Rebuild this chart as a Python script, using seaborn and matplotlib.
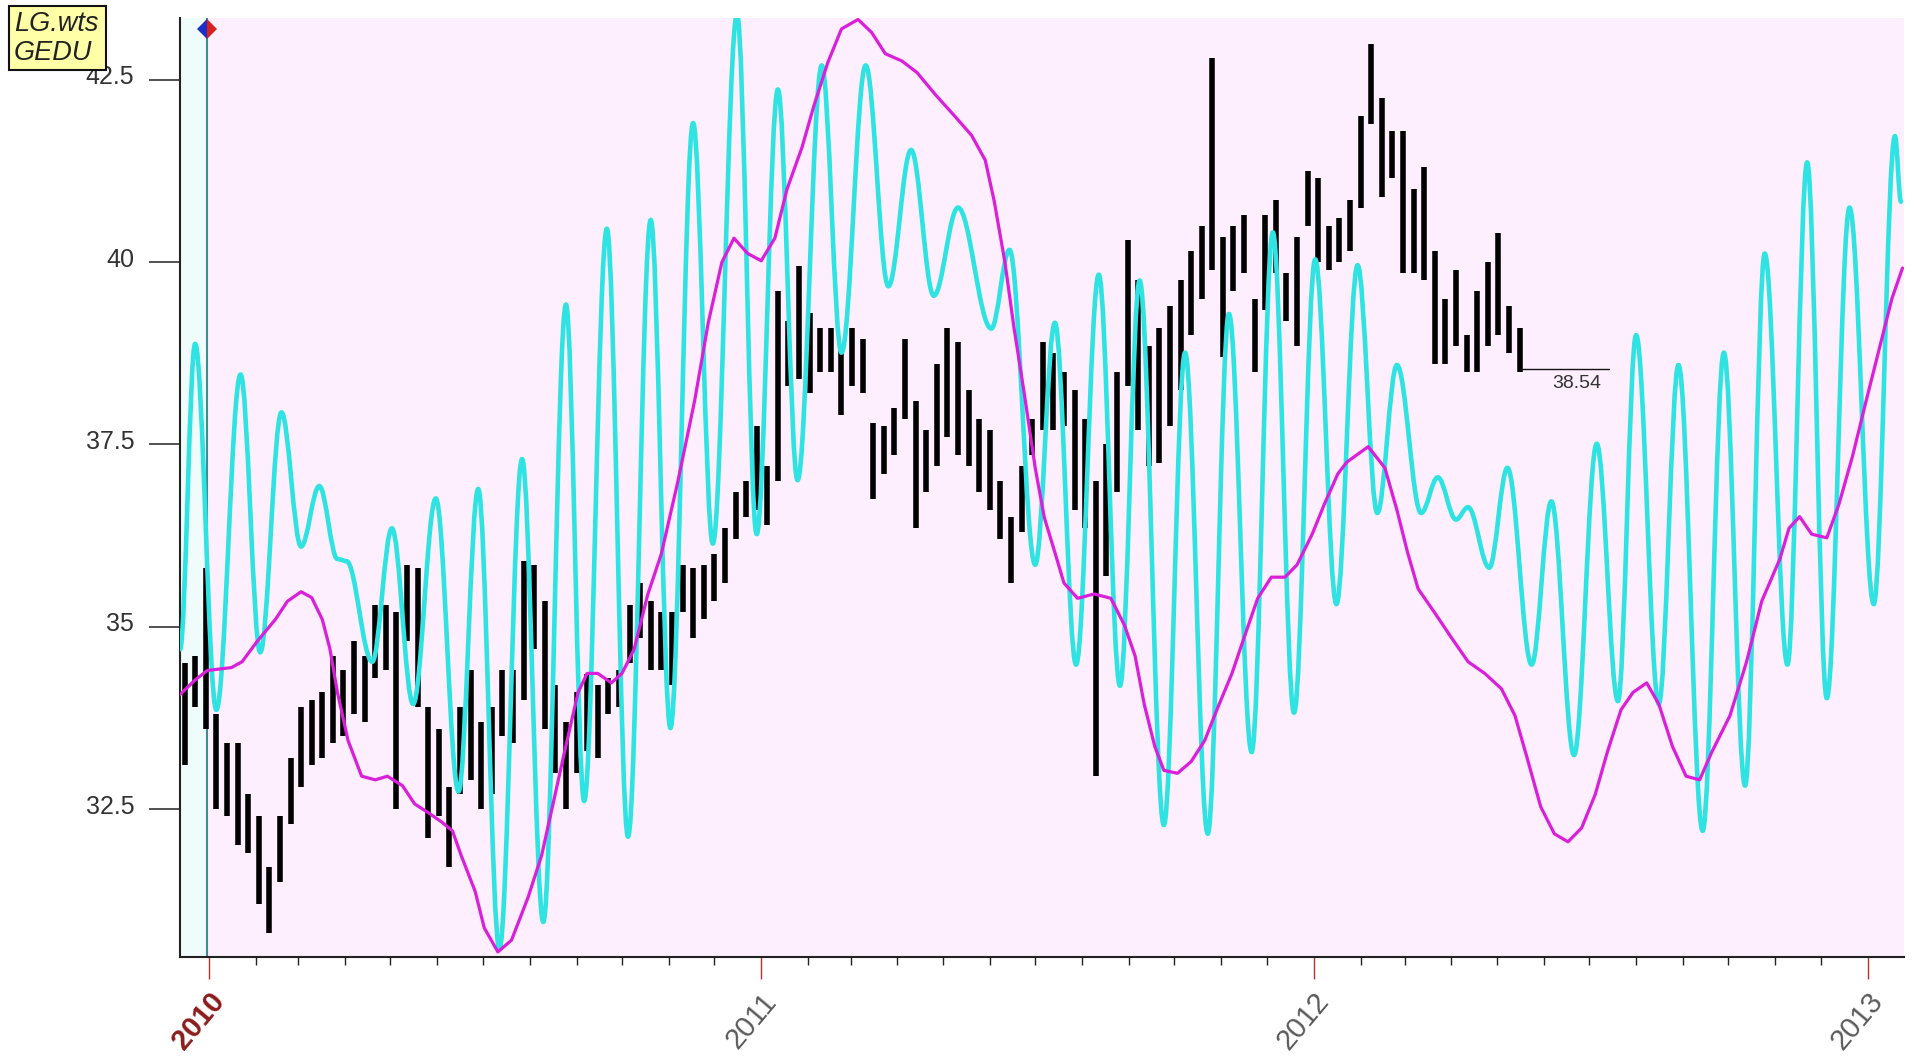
import numpy as np
import pandas as pd
import matplotlib
matplotlib.use("Agg")
import matplotlib.pyplot as plt
import matplotlib.dates as mdates
import matplotlib.transforms as mtransforms
from matplotlib.patches import Rectangle, PathPatch
from matplotlib.path import Path
import seaborn as sns

sns.set_style("white")
plt.rcParams["font.family"] = ["Liberation Sans", "DejaVu Sans"]

# ---------------- data ----------------
# weekly price ranges (high / low), weeks starting mid-December 2009
week_high = [34.5, 34.6, 35.8, 33.8, 33.4, 33.4, 32.7, 32.4, 31.7, 32.4,
             33.2, 33.9, 34.0, 34.1, 34.6, 34.4, 34.8, 34.6, 35.3, 35.3,
             35.2, 35.85, 35.8, 33.9, 33.6, 32.8, 33.9, 34.4, 33.7, 33.9,
             34.4, 34.4, 35.9, 35.85, 35.35, 34.2, 33.7, 34.1, 34.35, 34.2,
             34.3, 34.4, 35.3, 35.6, 35.35, 35.2, 35.2, 35.85, 35.8, 35.85,
             36.0, 36.35, 36.85, 37.0, 37.75, 37.2, 39.6, 39.2, 39.95, 39.3,
             39.1, 39.1, 38.8, 39.1, 38.95, 37.8, 37.75, 38.0, 38.95, 38.1,
             37.7, 38.6, 39.1, 38.9, 38.25, 37.85, 37.7, 37.0, 36.5, 37.2,
             37.85, 38.9, 38.75, 38.5, 38.25, 37.85, 37.0, 37.5, 38.5, 40.3,
             39.75, 38.85, 39.1, 39.4, 39.75, 40.15, 40.5, 42.8, 40.35, 40.5,
             40.65, 39.5, 40.65, 40.85, 39.85, 40.35, 41.25, 41.15, 40.5, 40.6,
             40.85, 42.0, 43.0, 42.25, 41.8, 41.8, 41.0, 41.3, 40.15, 39.5,
             39.9, 39.0, 39.6, 40.0, 40.4, 39.4, 39.1]
week_low = [33.1, 33.9, 33.6, 32.5, 32.4, 32.0, 31.9, 31.2, 30.8, 31.5,
            32.3, 32.8, 33.1, 33.2, 33.4, 33.5, 33.8, 33.7, 34.3, 34.4,
            32.5, 34.8, 33.9, 32.1, 32.4, 31.7, 32.7, 32.9, 32.5, 32.7,
            33.5, 33.4, 34.0, 34.7, 33.6, 33.0, 32.5, 33.0, 33.3, 33.2,
            33.8, 33.9, 34.5, 34.85, 34.4, 34.4, 34.2, 35.2, 34.85, 35.1,
            35.35, 35.6, 36.2, 36.5, 36.6, 36.4, 37.0, 38.3, 38.4, 38.2,
            38.5, 38.5, 37.9, 38.3, 38.2, 36.75, 37.1, 37.35, 37.85, 36.35,
            36.85, 37.2, 37.6, 37.35, 37.2, 36.85, 36.6, 36.2, 35.6, 36.3,
            37.35, 37.7, 37.7, 37.75, 36.6, 36.35, 32.95, 35.7, 36.85, 38.3,
            37.7, 37.2, 37.25, 37.75, 38.25, 39.0, 39.5, 39.9, 38.7, 39.6,
            39.85, 38.5, 39.35, 39.85, 39.2, 38.85, 40.5, 40.0, 39.9, 40.0,
            40.15, 40.75, 41.9, 40.9, 41.15, 39.85, 39.85, 39.75, 38.6, 38.6,
            38.85, 38.5, 38.5, 38.85, 39.0, 38.75, 38.5]
last_close = 38.54

# cycle composite (days from 2010-01-01, value)
cycle_day = [-19, -9, 5, 21, 34, 48, 61, 73, 85, 91, 108, 121, 135, 150, 165,
             178, 192, 207, 221, 236, 248, 263, 277, 292, 305, 320, 333, 349,
             362, 376, 389, 405, 418, 434, 449, 464, 479, 495, 517, 529, 546,
             559, 573, 588, 602, 615, 631, 645, 660, 674, 689, 703, 717, 731,
             745, 759, 772, 785, 801, 812, 824, 832, 846, 858, 874, 887, 902,
             917, 931, 943, 958, 971, 987, 1001, 1015, 1028, 1043, 1056, 1069,
             1084, 1100, 1114, 1118]
cycle_val = [34.69, 38.88, 33.86, 38.46, 34.65, 37.94, 36.10, 36.93, 35.93,
             35.90, 34.52, 36.35, 33.94, 36.76, 32.74, 36.89, 30.58, 37.30,
             30.95, 39.42, 32.61, 40.46, 32.12, 40.58, 33.61, 41.91, 36.14,
             43.40, 36.27, 42.37, 37.01, 42.70, 38.76, 42.70, 39.67, 41.54,
             39.54, 40.75, 39.09, 40.17, 35.85, 39.17, 34.48, 39.83, 34.19,
             39.75, 32.28, 38.76, 32.16, 39.29, 33.28, 40.41, 33.82, 40.04,
             35.31, 39.96, 36.56, 38.59, 36.56, 37.05, 36.47, 36.64, 35.81,
             37.18, 34.48, 36.72, 33.24, 37.51, 33.98, 39.00, 33.94, 38.59,
             32.20, 38.76, 32.82, 40.12, 34.48, 41.37, 34.02, 40.75, 35.31,
             41.73, 40.83]

# smoothed trend (days from 2010-01-01, value)
trend_day = [-19, -9, -1, 15, 22, 32, 44, 52, 61, 68, 75, 80, 85, 92, 101,
             110, 118, 128, 136, 145, 154, 161, 167, 176, 182, 191, 200, 211,
             220, 227, 235, 244, 250, 257, 266, 273, 281, 290, 299, 310, 321,
             330, 339, 347, 356, 365, 374, 382, 392, 400, 409, 418, 429, 438,
             447, 458, 468, 480, 493, 504, 513, 519, 526, 532, 539, 546, 552,
             559, 565, 574, 585, 596, 605, 612, 618, 625, 631, 640, 649, 658,
             666, 676, 684, 693, 702, 711, 719, 729, 737, 746, 752, 766, 777,
             785, 792, 799, 810, 821, 832, 843, 854, 863, 871, 880, 889, 898,
             907, 916, 924, 933, 941, 950, 958, 967, 976, 985, 993, 1005, 1016,
             1026, 1038, 1044, 1051, 1059, 1069, 1077, 1086, 1095, 1104, 1112,
             1119]
trend_val = [34.07, 34.27, 34.40, 34.44, 34.52, 34.80, 35.10, 35.35, 35.48,
             35.40, 35.10, 34.70, 34.10, 33.44, 32.95, 32.90, 32.95, 32.82,
             32.57, 32.45, 32.32, 32.20, 31.85, 31.37, 30.87, 30.54, 30.70,
             31.29, 31.87, 32.53, 33.28, 34.10, 34.36, 34.36, 34.23, 34.36,
             34.69, 35.44, 36.00, 37.00, 38.10, 39.17, 40.00, 40.33, 40.12,
             40.02, 40.33, 41.00, 41.58, 42.16, 42.74, 43.20, 43.33, 43.15,
             42.86, 42.76, 42.60, 42.30, 42.00, 41.74, 41.40, 40.83, 40.00,
             39.10, 38.17, 37.18, 36.50, 36.02, 35.60, 35.39, 35.45, 35.39,
             35.02, 34.60, 33.94, 33.36, 33.03, 32.99, 33.15, 33.44, 33.86,
             34.36, 34.85, 35.39, 35.68, 35.68, 35.85, 36.27, 36.68, 37.10,
             37.26, 37.47, 37.18, 36.60, 36.02, 35.52, 35.19, 34.85, 34.52,
             34.36, 34.15, 33.78, 33.20, 32.53, 32.16, 32.05, 32.24, 32.70,
             33.28, 33.86, 34.10, 34.23, 33.94, 33.36, 32.95, 32.90, 33.28,
             33.78, 34.52, 35.35, 35.93, 36.35, 36.51, 36.27, 36.22, 36.68,
             37.34, 38.10, 38.84, 39.50, 39.92]

y_ticks = [32.5, 35, 37.5, 40, 42.5]
year_labels = ["2010", "2011", "2012", "2013"]

# ---------------- helpers ----------------
base = mdates.date2num(np.datetime64("2010-01-01"))
week_x = mdates.date2num(pd.date_range("2009-12-16", periods=len(week_high), freq="7D").to_pydatetime())
cycle_df = pd.DataFrame({"x": base + np.array(cycle_day, float), "y": cycle_val})
trend_df = pd.DataFrame({"x": base + np.array(trend_day, float), "y": trend_val})

x_left = mdates.date2num(np.datetime64("2009-12-13"))
x_right = mdates.date2num(np.datetime64("2013-01-25"))
start_line = mdates.date2num(np.datetime64("2009-12-31"))
close_line_end = mdates.date2num(np.datetime64("2012-07-14"))


def smooth_wave_path(xs, ys, k=0.36):
    """Cubic Bezier path through turning points with flat tangents at each."""
    verts = [(xs[0], ys[0])]
    codes = [Path.MOVETO]
    for i in range(len(xs) - 1):
        dx = xs[i + 1] - xs[i]
        verts += [(xs[i] + k * dx, ys[i]), (xs[i + 1] - k * dx, ys[i + 1]),
                  (xs[i + 1], ys[i + 1])]
        codes += [Path.CURVE4] * 3
    return Path(verts, codes)


# ---------------- figure ----------------
fig = plt.figure(figsize=(19.16, 10.61), dpi=100)
fig.patch.set_facecolor("white")
ax = fig.add_axes([0.09395, 0.09802, 0.89979, 0.88501])
ax.set_facecolor("#FDEFFD")

ax.axvspan(x_left, start_line, color="#F0FCFC", zorder=0, lw=0)
ax.axvline(start_line, color="#3B8E96", lw=1.5, zorder=1)

ax.vlines(week_x, week_low, week_high, color="black", linewidth=4.0, zorder=2)

# last close marker
ax.plot([week_x[-1], close_line_end], [last_close, last_close], color="#111111", lw=1.0, zorder=2)
ax.text(close_line_end - 5, last_close - 0.08, f"{last_close:.2f}", ha="right", va="top",
        fontsize=14, color="#333333", zorder=5)

# cycle composite drawn as a smooth curve through its turning points
sns.lineplot(data=cycle_df, x="x", y="y", ax=ax, color="#2FE3E3", linewidth=0,
             estimator=None, sort=False, legend=False, zorder=3)
ax.add_patch(PathPatch(smooth_wave_path(cycle_df["x"].values, cycle_df["y"].values),
                       facecolor="none", edgecolor="#2FE3E3", linewidth=3.3,
                       joinstyle="round", capstyle="round", zorder=3))

sns.lineplot(data=trend_df, x="x", y="y", ax=ax, color="#DA1FDA", linewidth=2.3,
             estimator=None, sort=False, legend=False, zorder=4)

ax.plot([start_line], [43.2], marker="D", markersize=10, fillstyle="left",
        markerfacecolor="#1E2FC8", markerfacecoloralt="#D42020",
        markeredgewidth=0, clip_on=False, zorder=6)

ax.set_xlim(x_left, x_right)
ax.set_ylim(30.47, 43.35)
ax.set_xlabel("")
ax.set_ylabel("")

# spines
for s in ("top", "right"):
    ax.spines[s].set_visible(False)
for s in ("left", "bottom"):
    ax.spines[s].set_color("#222222")
    ax.spines[s].set_linewidth(1.5)

# y axis
ax.set_yticks(y_ticks)
ax.set_yticklabels([f"{v:g}" for v in y_ticks])
ax.tick_params(axis="y", direction="out", length=22, width=1.1, color="#222222",
               labelsize=18, labelcolor="#333333", pad=11, left=True)
offset = mtransforms.ScaledTranslation(0, 5 / 100, fig.dpi_scale_trans)
for tick in ax.yaxis.get_major_ticks():
    tick.label1.set_transform(tick.label1.get_transform() + offset)

# x axis
ax.xaxis.set_major_locator(mdates.YearLocator())
ax.xaxis.set_minor_locator(mdates.MonthLocator(bymonth=range(2, 13)))
ax.xaxis.set_major_formatter(mdates.DateFormatter("%Y"))
ax.tick_params(axis="x", which="major", direction="out", length=16, width=1.0,
               color="#B83030", labelsize=21, pad=6, bottom=True)
ax.tick_params(axis="x", which="minor", direction="out", length=6, width=1.0,
               color="#222222", bottom=True)
fig.canvas.draw()
for lab in ax.get_xticklabels():
    lab.set_rotation(50)
    lab.set_ha("right")
    lab.set_rotation_mode("anchor")
    if lab.get_text() == year_labels[0]:
        lab.set_color("#8B1C1C")
        lab.set_fontweight("bold")
    else:
        lab.set_color("#5A5A5A")

# symbol box
fig.patches.append(Rectangle((9 / 1916, 1 - 70 / 1061), 97 / 1916, 64 / 1061,
                             transform=fig.transFigure, facecolor="#FFFFA8",
                             edgecolor="#111111", linewidth=1.5, zorder=10))
fig.text(14 / 1916, 1 - 24 / 1061, "LG.wts", fontsize=19.5, style="italic",
         color="#222222", va="center", ha="left", zorder=11)
fig.text(14 / 1916, 1 - 53 / 1061, "GEDU", fontsize=19.5, style="italic",
         color="#222222", va="center", ha="left", zorder=11)

fig.savefig("out.png", dpi=100, facecolor="white")
